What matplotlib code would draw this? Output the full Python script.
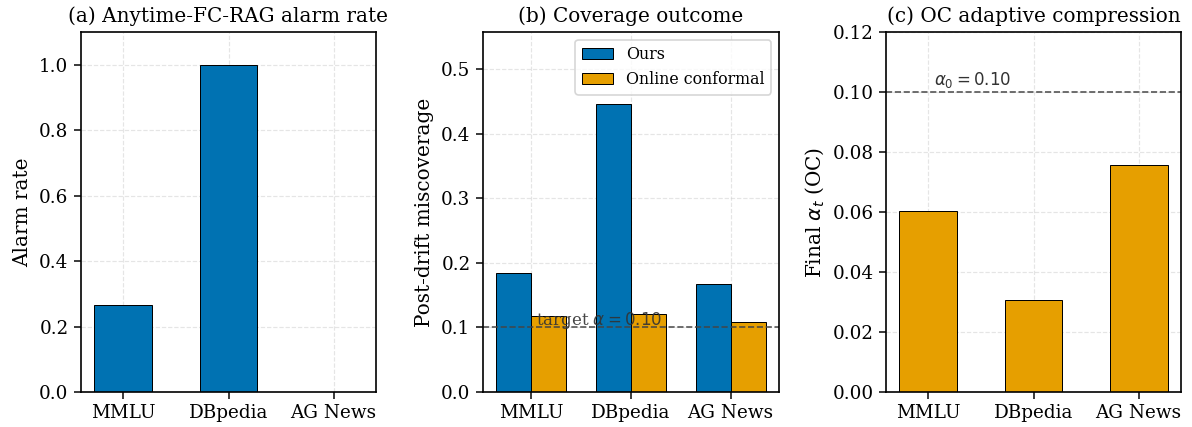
import numpy as np
import matplotlib
matplotlib.use("Agg")
import matplotlib.pyplot as plt

plt.rcParams["font.family"] = "DejaVu Serif"
plt.rcParams["mathtext.fontset"] = "dejavusans"

datasets = ["MMLU", "DBpedia", "AG News"]
alarm_rate = [0.267, 1.0, 0.0]
miscov_ours = [0.184, 0.446, 0.167]
miscov_online = [0.117, 0.121, 0.108]
final_alpha_oc = [0.0603, 0.0307, 0.0758]
target_alpha = 0.10
alpha0 = 0.10

BLUE = "#0072B2"
ORANGE = "#E69F00"

DPI = 120
W, H = 1192, 427
fig = plt.figure(figsize=(W / DPI, H / DPI), dpi=DPI)
boxes = [(81, 376), (483, 779), (886, 1181)]
top_px, bot_px = 32, 392
axes = []
for l, r in boxes:
    axes.append(fig.add_axes([l / W, 1 - bot_px / H, (r - l) / W, (bot_px - top_px) / H]))

x = np.arange(len(datasets))


def style(ax):
    ax.grid(True, linestyle="--", color="#cccccc", alpha=0.5, linewidth=0.7)
    ax.set_axisbelow(True)
    for s in ax.spines.values():
        s.set_linewidth(1.0)
    ax.tick_params(labelsize=11, width=0.9, length=4)
    ax.set_xticks(x)
    ax.set_xticklabels(datasets)


# (a) alarm rate
ax = axes[0]
ax.bar(x, alarm_rate, width=0.55, color=BLUE, edgecolor="black", linewidth=0.6)
ax.set_ylim(0, 1.1)
ax.set_ylabel("Alarm rate", fontsize=12)
ax.set_title("(a) Anytime-FC-RAG alarm rate", fontsize=12)
style(ax)

# (b) coverage outcome
ax = axes[1]
w = 0.35
ax.bar(x - w / 2, miscov_ours, width=w, color=BLUE, edgecolor="black", linewidth=0.6, label="Ours")
ax.bar(x + w / 2, miscov_online, width=w, color=ORANGE, edgecolor="black", linewidth=0.6, label="Online conformal")
ax.axhline(target_alpha, color="#444444", linestyle="--", linewidth=1.0, alpha=0.9)
ax.text(0.05, target_alpha + 0.004, r"target $\alpha = 0.10$", fontsize=10, color="#333333", alpha=0.9)
ax.set_ylim(0, max(miscov_ours) * 1.25)
ax.set_ylabel("Post-drift miscoverage", fontsize=12)
ax.set_title("(b) Coverage outcome", fontsize=12)
ax.legend(fontsize=9.5, loc="upper right")
style(ax)

# (c) final alpha of online conformal
ax = axes[2]
ax.bar(x, final_alpha_oc, width=0.55, color=ORANGE, edgecolor="black", linewidth=0.6)
ax.axhline(alpha0, color="#555555", linestyle="--", linewidth=1.0)
ax.text(0.05, alpha0 + 0.0025, r"$\alpha_0 = 0.10$", fontsize=10, color="#333333")
ax.set_ylim(0, 0.12)
ax.set_ylabel(r"Final $\alpha_t$ (OC)", fontsize=12)
ax.set_title("(c) OC adaptive compression", fontsize=12)
style(ax)

fig.savefig("out.png", dpi=DPI)
